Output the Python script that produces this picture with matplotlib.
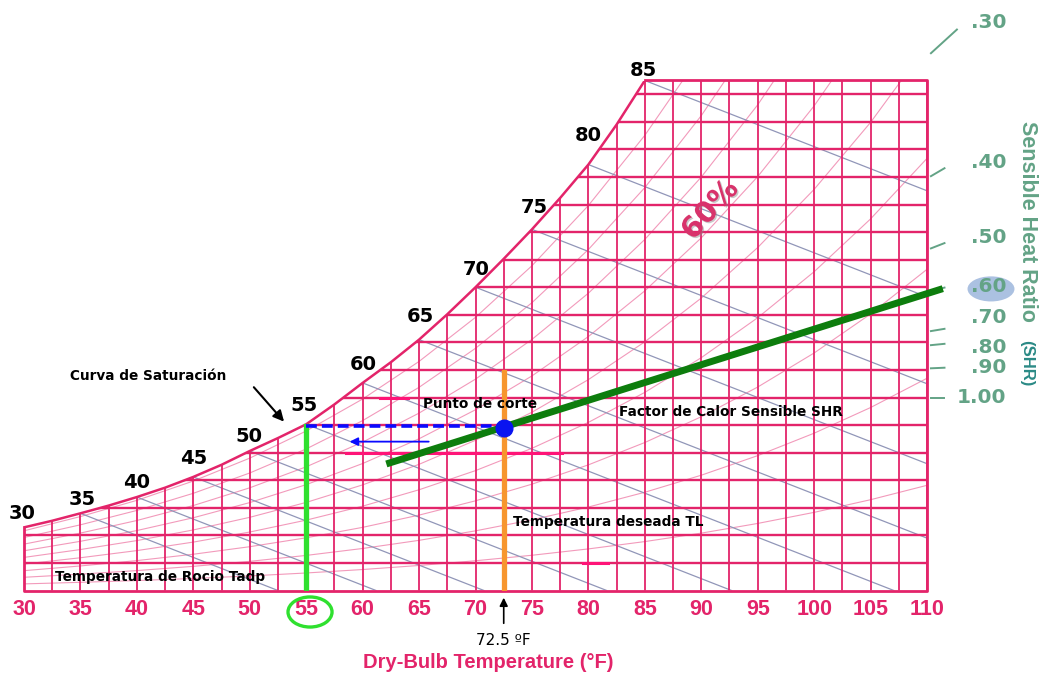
import matplotlib
matplotlib.use("Agg")
import matplotlib.pyplot as plt
import matplotlib.patheffects as pe
from matplotlib.patches import Ellipse, Polygon
import numpy as np

# saturation curve: dry bulb (F) -> humidity ratio (grains/lb)
sat_temp = [30, 32.5, 35, 37.5, 40, 42.5, 45, 47.5, 50, 52.5, 55, 57.5,
            60, 62.5, 65, 67.5, 70, 72.5, 75, 77.5, 80, 82.5, 85]
sat_grains = [22.9, 25.3, 28.0, 30.8, 33.9, 37.3, 41.2, 45.6, 50.6, 55.3, 60.3, 67.5,
              75.3, 82.8, 91.0, 100.2, 110.0, 120.3, 131.0, 142.4, 154.5, 169.0, 185.0]

# vapour pressure table (psia) used for the relative humidity curves
ps_temp = [30, 35, 40, 45, 50, 55, 60, 65, 70, 75, 80, 85, 90, 95, 100, 105, 110]
ps_psia = [0.0808, 0.09998, 0.12173, 0.14756, 0.17811, 0.21413, 0.25638, 0.30578,
           0.36334, 0.43016, 0.50745, 0.59659, 0.69904, 0.81643, 0.95052, 1.10323, 1.27667]
rh_levels = [0.1, 0.2, 0.3, 0.4, 0.5, 0.6, 0.7, 0.8, 0.9]
P_ATM = 14.696

# wet bulb lines start on the saturation curve
wb_temps = [35, 40, 45, 50, 55, 60, 65, 70, 75, 80, 85]
WB_SLOPE = 1.6  # grains per F

sat_labels = ["30", "35", "40", "45", "50", "55", "60", "65", "70", "75", "80", "85"]
sat_label_temp = [30, 35, 40, 45, 50, 55, 60, 65, 70, 75, 80, 85]
label_nudge = [(-2, 14), (2, 14), (0, 15), (0, 18), (-1, 15), (-2, 19),
               (1, 18), (1, 23), (1, 18), (2, 22), (0, 29), (-1, 10)]

x_ticks = list(range(30, 111, 5))

# sensible heat ratio scale
shr_values = [0.30, 0.40, 0.50, 0.60, 0.70, 0.80, 0.90, 1.00]
shr_text = [".30", ".40", ".50", ".60", ".70", ".80", ".90", "1.00"]
shr_tick_grains = [194.9, 150.3, 124.1, 108.6, 94.1, 89.0, 80.6, 69.7]
shr_label_grains = [206.2, 155.1, 128.2, 110.1, 99.2, 88.3, 81.0, 69.9]
tick_len = [2.3, 1.2, 1.2, 1.2, 1.2, 1.2, 1.2, 1.2]

# process on the chart
t_dew = 55
t_room = 72.5
w_cut = 59.7
w_orange_top = 79.4
shr_line_t = [62.1, 111.4]
shr_line_w = [45.9, 109.5]

PINK = "#e3246a"
LIGHT_PINK = "#f29abb"
GRAY = "#9196b8"
SHR_GREEN = "#63a386"

fig = plt.figure(figsize=(10.4, 6.73), dpi=100)
ax = fig.add_axes([24 / 1040, 82.5 / 673, 903 / 1040, 510 / 673])
ax.set_xlim(30, 110)
ax.set_ylim(0, 185)
for s in ax.spines.values():
    s.set_visible(False)
ax.set_yticks([])
ax.set_xticks(x_ticks)
ax.set_xticklabels([str(t) for t in x_ticks], color=PINK, fontsize=15.5,
                   fontweight="bold", family="Liberation Sans")
ax.tick_params(axis="x", length=0, pad=6)

# chart area, used to clip the grid
verts = [(30, 0)] + list(zip(sat_temp, sat_grains)) + [(110, 185), (110, 0)]
area = Polygon(verts, closed=True, facecolor="none", edgecolor="none")
ax.add_patch(area)

lines = []
ps = np.array(ps_psia)
for phi in rh_levels:
    w = 0.622 * phi * ps / (P_ATM - phi * ps) * 7000
    lines += ax.plot(ps_temp, w, color=LIGHT_PINK, lw=0.8, zorder=1)

for tw in wb_temps:
    ws = sat_grains[sat_temp.index(tw)]
    t_end = min(110, tw + ws / WB_SLOPE)
    lines += ax.plot([tw, t_end], [ws, ws - WB_SLOPE * (t_end - tw)],
                     color=GRAY, lw=0.9, zorder=1.5)

for t in np.arange(30, 110.01, 2.5):
    lines += ax.plot([t, t], [0, 185], color=PINK, lw=1.3, zorder=2)
for g in range(10, 181, 10):
    lines += ax.plot([30, 110], [g, g], color=PINK, lw=1.7, zorder=2)

for seg_w, t0, t1 in [(50, 58.5, 77.7), (70, 61.5, 64.0), (10, 79.5, 81.7)]:
    lines += ax.plot([t0, t1], [seg_w, seg_w], color="#ff1477", lw=2.2, zorder=2.2)

for ln in lines:
    ln.set_clip_path(area)

# chart frame and saturation curve
ax.plot(sat_temp, sat_grains, color=PINK, lw=1.8, zorder=3)
ax.plot([30, 30, 110, 110, 85], [sat_grains[0], 0, 0, 185, 185],
        color=PINK, lw=2.0, zorder=3, clip_on=False)

for txt, t, (dx, dy) in zip(sat_labels, sat_label_temp, label_nudge):
    ax.annotate(txt, (t, sat_grains[sat_temp.index(t)]), xytext=(dx, dy),
                textcoords="offset pixels", ha="center", va="center",
                fontsize=14, fontweight="bold", family="DejaVu Sans", color="black")

ax.text(90.8, 138, "60%", rotation=48, ha="center", va="center", fontsize=21,
        fontweight="bold", family="DejaVu Sans", color="#d8336b", zorder=5,
        path_effects=[pe.withSimplePatchShadow(offset=(1, -1),
                                               shadow_rgbFace="#888888", alpha=0.45)])

# SHR scale
for s, g0, ln, txt, gl in zip(shr_values, shr_tick_grains, tick_len, shr_text, shr_label_grains):
    slope = 1.6 * (1 - s) / s
    ax.plot([110.35, 110.35 + ln], [g0, g0 + slope * ln], color=SHR_GREEN,
            lw=1.4, clip_on=False, zorder=3)
    ax.text(117.0, gl, txt, ha="right", va="center", fontsize=14.5, fontweight="bold",
            family="DejaVu Sans", color=SHR_GREEN, zorder=6)
ax.add_patch(Ellipse((115.67, 109.4), 4.16, 9.1, facecolor="#9db6dc", edgecolor="none",
                     alpha=0.85, clip_on=False, zorder=5))
ax.text(118.86, 134, "Sensible Heat Ratio", rotation=270, ha="center", va="center",
        fontsize=15.5, fontweight="bold", family="Liberation Sans", color=SHR_GREEN)
ax.text(118.86, 82.5, "(SHR)", rotation=270, ha="center", va="center",
        fontsize=12, fontweight="bold", family="Liberation Sans", color="#2b8a86")

# process lines
ax.plot(shr_line_t, shr_line_w, color="#0d7d0d", lw=5, solid_capstyle="butt",
        zorder=7, clip_on=False)
ax.plot([t_room, t_room], [0, w_orange_top], color="#f7962e", lw=3.8, zorder=6)
ax.plot([t_dew, t_dew], [0, w_cut], color="#2fe02f", lw=3.8, zorder=6)
ax.plot([t_dew, t_room], [w_cut, w_cut], color="#0a0aff", lw=2.6,
        dashes=(3, 1.4), zorder=6)
ax.plot([t_room], [w_cut - 0.6], "o", color="#0a14f0", ms=12, zorder=8)
ax.annotate("", xy=(58.6, 54.0), xytext=(66.1, 54.0),
            arrowprops=dict(arrowstyle="-|>", color="#0a0aff", lw=1.3, mutation_scale=12),
            zorder=6)

# annotations
txt_kw = dict(fontsize=9.8, fontweight="bold", family="DejaVu Sans", color="black",
              va="center", ha="left", zorder=9)
ax.text(34.1, 77.9, "Curva de Saturación", **txt_kw)
ax.annotate("", xy=(53.2, 60.5), xytext=(50.2, 74.5),
            arrowprops=dict(arrowstyle="-|>", color="black", lw=1.5, mutation_scale=16))
ax.text(65.35, 67.6, "Punto de corte", **txt_kw)
ax.text(82.7, 64.7, "Factor de Calor Sensible SHR", **txt_kw)
ax.text(73.3, 24.8, "Temperatura deseada TL", **txt_kw)
ax.text(32.75, 4.9, "Temperatura de Rocio Tadp", **txt_kw)

ax.add_patch(Ellipse((55.34, -7.8), 3.9, 10.9, facecolor="none", edgecolor="#2fe02f",
                     lw=2.4, clip_on=False, zorder=6))
ax.annotate("", xy=(t_room, -1.6), xytext=(t_room, -12.9), annotation_clip=False,
            arrowprops=dict(arrowstyle="-|>", color="black", lw=1.2, mutation_scale=12))
ax.text(72.44, -18.0, "72.5 ºF", ha="center", va="center", fontsize=11,
        family="DejaVu Sans", color="black")
ax.text(71.1, -26.0, "Dry-Bulb Temperature (°F)", ha="center", va="center",
        fontsize=14.5, fontweight="bold", family="Liberation Sans", color=PINK)

fig.savefig("out.png", dpi=100)
